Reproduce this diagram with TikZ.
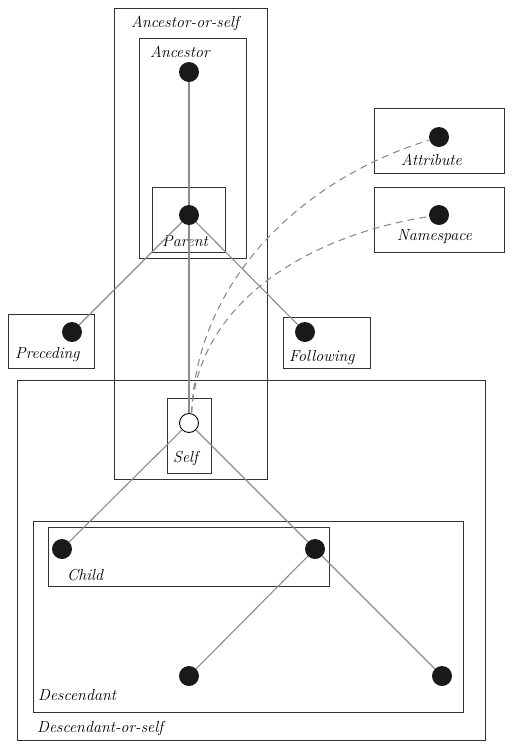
\documentclass[tikz,border=0pt]{standalone}
\usetikzlibrary{fit}

\tikzset{
  axisbox/.style={draw=black!80, line width=0.9pt, inner sep=0pt},
  axislabel/.style={font=\fontsize{16}{19}\selectfont\itshape, inner sep=0pt},
  nodedot/.style={circle, fill=black!90, minimum size=20pt, inner sep=0pt},
  selfdot/.style={circle, draw=black, fill=white, line width=0.9pt, minimum size=19pt, inner sep=0pt},
  treeline/.style={draw=black!45, line width=1.1pt},
  axisline/.style={draw=black!45, line width=1.1pt, dash pattern=on 7pt off 5pt},
}

\begin{document}
\begin{tikzpicture}[x=1pt, y=-1pt]
 \useasboundingbox (0,0) rectangle (513,750);

 % the axes
 \node[axisbox, fit={(114,8) (267,479)}] (ancself) {};
 \node[axisbox, fit={(139,38) (246,258)}] (anc) {};
 \node[axisbox, fit={(152,187) (225,252)}] (par) {};
 \node[axisbox, fit={(374,108) (504,173)}] (attr) {};
 \node[axisbox, fit={(374,187) (504,252)}] (ns) {};
 \node[axisbox, fit={(8,314) (94,368)}] (prec) {};
 \node[axisbox, fit={(283,317) (370,368)}] (foll) {};
 \node[axisbox, fit={(17,380) (485,740)}] (descself) {};
 \node[axisbox, fit={(167,398) (211,473)}] (selfbox) {};
 \node[axisbox, fit={(33,521) (463,712)}] (desc) {};
 \node[axisbox, fit={(48,527) (329,586)}] (child) {};

 \node[axislabel, anchor=base west] (l-ancself) at (131,27) {Ancestor-or-self};
 \node[axislabel, anchor=base west] (l-anc) at (150,57) {Ancestor};
 \node[axislabel, anchor=base west] (l-par) at (162,246) {Parent};
 \node[axislabel, anchor=base west] (l-attr) at (401,165) {Attribute};
 \node[axislabel, anchor=base west] (l-ns) at (397,240) {Namespace};
 \node[axislabel, anchor=base west] (l-prec) at (15,358) {Preceding};
 \node[axislabel, anchor=base west] (l-foll) at (289,361) {Following};
 \node[axislabel, anchor=base west] (l-self) at (173,462) {Self};
 \node[axislabel, anchor=base west] (l-child) at (67,580) {Child};
 \node[axislabel, anchor=base west] (l-desc) at (38,700) {Descendant};
 \node[axislabel, anchor=base west] (l-descself) at (37,732) {Descendant-or-self};

 % the nodes of the tree
 \node[nodedot] (d-anc) at (189,72) {};
 \node[nodedot] (d-par) at (189,215) {};
 \node[nodedot] (d-attr) at (439,137) {};
 \node[nodedot] (d-ns) at (439,215) {};
 \node[nodedot] (d-prec) at (72,332) {};
 \node[nodedot] (d-foll) at (305,332) {};
 \node[selfdot] (self) at (189,423) {};
 \node[nodedot] (d-c1) at (62,549) {};
 \node[nodedot] (d-c2) at (315,549) {};
 \node[nodedot] (d-d1) at (189,676) {};
 \node[nodedot] (d-d2) at (442,676) {};

 % tree edges
 \draw[treeline] (d-anc) -- (d-par);
 \draw[treeline] (d-par) -- (self);
 \draw[treeline] (d-par) -- (d-prec);
 \draw[treeline] (d-par) -- (d-foll);
 \draw[treeline] (self) -- (d-c1);
 \draw[treeline] (self) -- (d-c2);
 \draw[treeline] (d-c2) -- (d-d1);
 \draw[treeline] (d-c2) -- (d-d2);

 % attribute and namespace axes
 \draw[axisline] (self.75) .. controls +(5,-132) and +(-139,43) .. (d-attr);
 \draw[axisline] (self.75) .. controls +(6,-112) and +(-129,20) .. (d-ns);
\end{tikzpicture}
\end{document}
